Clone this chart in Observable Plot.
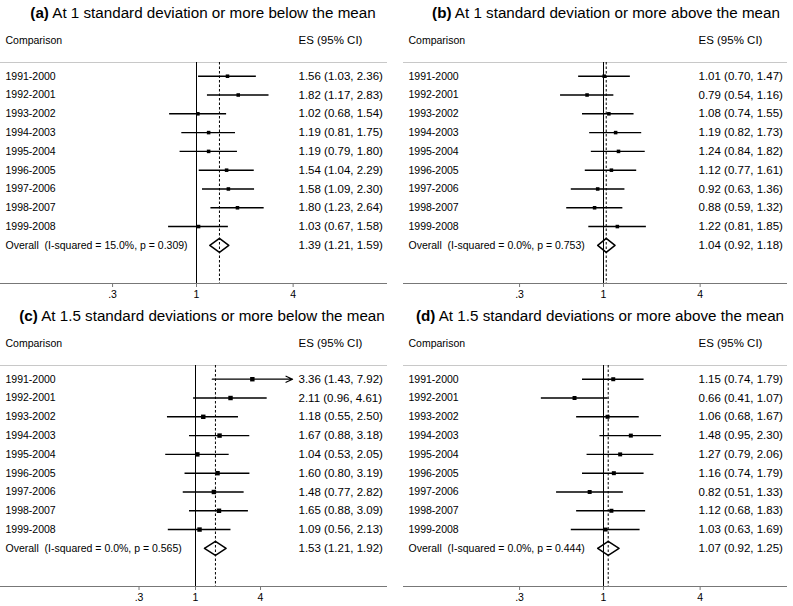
<!DOCTYPE html>
<html><head><meta charset="utf-8">
<script src="https://cdn.jsdelivr.net/npm/d3@7"></script>
<script src="https://cdn.jsdelivr.net/npm/@observablehq/plot@0.6"></script>
<style>
body{margin:0;background:#fff;font-family:"Liberation Sans",Arial,sans-serif;}
#root{position:relative;width:793px;height:606px;overflow:hidden;background:#fff;}
.panel{position:absolute;width:393px;height:303px;}
.title{position:absolute;left:0;top:0;height:26px;line-height:26px;text-align:center;font-size:15.2px;color:#000;white-space:nowrap;}
.panel svg{position:absolute;left:0;top:26px;}
</style></head><body><div id="root"></div>
<script>
// ---- data ----
const comparisons = ["1991-2000","1992-2001","1993-2002","1994-2003","1995-2004","1996-2005","1997-2006","1998-2007","1999-2008"];

const esA = [1.56,1.82,1.02,1.19,1.19,1.54,1.58,1.80,1.03];
const loA = [1.03,1.17,0.68,0.81,0.79,1.04,1.09,1.23,0.67];
const hiA = [2.36,2.83,1.54,1.75,1.80,2.29,2.30,2.64,1.58];

const esB = [1.01,0.79,1.08,1.19,1.24,1.12,0.92,0.88,1.22];
const loB = [0.70,0.54,0.74,0.82,0.84,0.77,0.63,0.59,0.81];
const hiB = [1.47,1.16,1.55,1.73,1.82,1.61,1.36,1.32,1.85];

const esC = [3.36,2.11,1.18,1.67,1.04,1.60,1.48,1.65,1.09];
const loC = [1.43,0.96,0.55,0.88,0.53,0.80,0.77,0.88,0.56];
const hiC = [7.92,4.61,2.50,3.18,2.05,3.19,2.82,3.09,2.13];

const esD = [1.15,0.66,1.06,1.48,1.27,1.16,0.82,1.12,1.03];
const loD = [0.74,0.41,0.68,0.95,0.79,0.74,0.51,0.68,0.63];
const hiD = [1.79,1.07,1.67,2.30,2.06,1.79,1.33,1.83,1.69];

const overallES = [1.39,1.04,1.53,1.07];
const overallLo = [1.21,0.92,1.21,0.92];
const overallHi = [1.59,1.18,1.92,1.25];
const iSquared  = [15.0,0.0,0.0,0.0];
const pValues   = [0.309,0.753,0.565,0.444];

const panelLetters = ["(a)","(b)","(c)","(d)"];
const panelTitles = [
  "At 1 standard deviation or more below the mean",
  "At 1 standard deviation or more above the mean",
  "At 1.5 standard deviations or more below the mean",
  "At 1.5 standard deviations or more above the mean"
];
const xTicks = [0.3, 1, 4];
const headerLeft = "Comparison";
const headerRight = "ES (95% CI)";

// ---- layout (not data) ----
const seriesES = [esA, esB, esC, esD];
const seriesLo = [loA, loB, loC, loD];
const seriesHi = [hiA, hiB, hiC, hiD];
const layout = [
  {left:0,   top:0,   mL:0, oneAt:196, ppd:160.5, titleW:406, r:2.0},
  {left:400, top:0,   mL:3, oneAt:203, ppd:160.5, titleW:412, r:2.0},
  {left:0,   top:303, mL:0, oneAt:195, ppd:108,   titleW:404, r:2.5},
  {left:400, top:303, mL:3, oneAt:203, ppd:160.5, titleW:400, r:2.25}
];
const W = 393, H = 277, mR = 6, mT = 36, mB = 20;
const rowTop = -0.73, rowBottom = 11.03, headerRow = -1.9;
const arrowLimit = 5;
const fmt2 = d3.format(".2f");
const fmtTick = d => String(d).replace(/^0\./, ".");
const font = "Liberation Sans, Arial, sans-serif";
const fsL = 10.5, fsR = 11.5;

const root = document.getElementById("root");

for (let p = 0; p < 4; p++) {
  const L = layout[p];
  const rows = comparisons.map((c, i) => ({
    label: c, es: seriesES[p][i], lo: seriesLo[p][i], hi: seriesHi[p][i], row: i
  }));
  const oRow = comparisons.length;
  const overall = {
    label: "Overall\u00a0\u00a0(I-squared = " + iSquared[p].toFixed(1) + "%, p = " + pValues[p].toFixed(3) + ")",
    es: overallES[p], lo: overallLo[p], hi: overallHi[p], row: oRow
  };
  const half = 0.37;
  const diamond = [
    {x: overall.lo, y: oRow},
    {x: overall.es, y: oRow - half},
    {x: overall.hi, y: oRow},
    {x: overall.es, y: oRow + half},
    {x: overall.lo, y: oRow}
  ];
  const esText = d => fmt2(d.es) + " (" + fmt2(d.lo) + ", " + fmt2(d.hi) + ")";
  const fL = L.mL, fR = W - mR;
  const domain = [Math.pow(10, -(L.oneAt - fL) / L.ppd), Math.pow(10, (fR - L.oneAt) / L.ppd)];
  const lineRows = rows.filter(d => d.hi <= arrowLimit);
  const arrowRows = rows.filter(d => d.hi > arrowLimit);

  const chart = Plot.plot({
    width: W, height: H,
    marginLeft: L.mL, marginRight: mR, marginTop: mT, marginBottom: mB,
    style: {fontFamily: font, fontSize: fsL + "px", color: "#000", background: "transparent", overflow: "visible"},
    x: {type: "log", domain, axis: null},
    y: {domain: [rowBottom, rowTop], axis: null},
    marks: [
      Plot.ruleY([rowTop], {stroke: "#c8c8c8", strokeWidth: 1}),
      Plot.ruleY([rowBottom], {stroke: "#777", strokeWidth: 1}),
      Plot.axisX({ticks: xTicks, tickFormat: () => "", tickSize: 4, stroke: "#777"}),
      Plot.text(xTicks, {x: d => d, text: fmtTick, frameAnchor: "bottom", dy: 14, fontSize: fsL, fontFamily: font, fill: "#000"}),
      Plot.ruleX([1], {stroke: "#000", strokeWidth: 1}),
      Plot.ruleX([overall.es], {stroke: "#000", strokeWidth: 1, strokeDasharray: "2.5,2"}),
      Plot.ruleY(lineRows, {y: "row", x1: "lo", x2: "hi", stroke: "#000", strokeWidth: 1.4}),
      Plot.arrow(arrowRows, {x1: "lo", x2: "hi", y1: "row", y2: "row", stroke: "#000", strokeWidth: 1.2, headLength: 9, headAngle: 50}),
      Plot.dot(rows, {x: "es", y: "row", symbol: "square", r: L.r, fill: "#000", stroke: null}),
      Plot.line(diamond, {x: "x", y: "y", stroke: "#000", strokeWidth: 1.5, fill: "none", curve: "linear"}),
      Plot.text(rows.concat([overall]), {text: "label", y: "row", frameAnchor: "left", dx: 5, textAnchor: "start", fontSize: fsL, fontFamily: font, fill: "#000"}),
      Plot.text(rows.concat([overall]), {text: esText, y: "row", frameAnchor: "right", dx: -89, textAnchor: "start", fontSize: fsR, fontFamily: font, fill: "#000"}),
      Plot.text([headerLeft], {text: d => d, y: () => headerRow, frameAnchor: "left", dx: 5, textAnchor: "start", fontSize: fsL, fontFamily: font, fill: "#000"}),
      Plot.text([headerRight], {text: d => d, y: () => headerRow, frameAnchor: "right", dx: -89, textAnchor: "start", fontSize: fsR, fontFamily: font, fill: "#000"})
    ]
  });

  const panel = document.createElement("div");
  panel.className = "panel";
  panel.style.left = L.left + "px";
  panel.style.top = L.top + "px";
  const title = document.createElement("div");
  title.className = "title";
  title.style.width = L.titleW + "px";
  const b = document.createElement("b");
  b.textContent = panelLetters[p];
  title.appendChild(b);
  title.appendChild(document.createTextNode(" " + panelTitles[p]));
  panel.appendChild(title);
  panel.appendChild(chart);
  root.appendChild(panel);
}
</script>
</body></html>
